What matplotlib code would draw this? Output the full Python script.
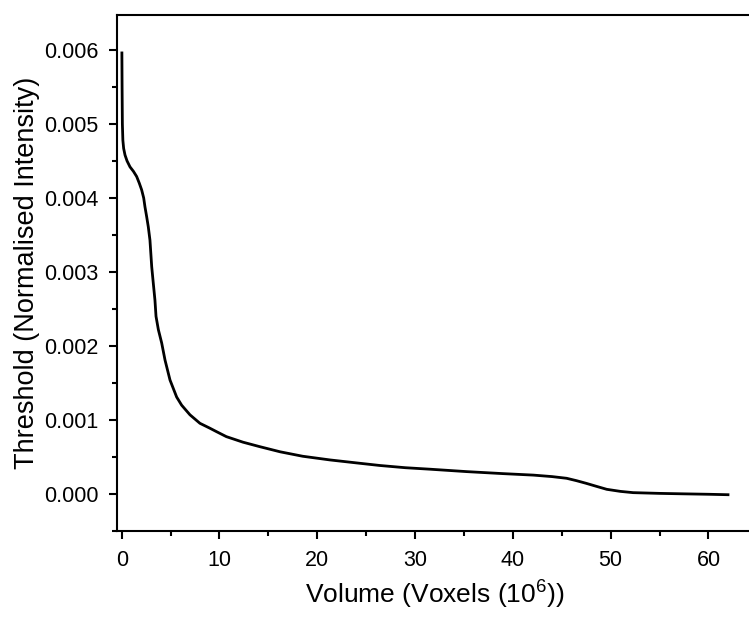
import matplotlib
matplotlib.use("Agg")
import matplotlib.pyplot as plt
from matplotlib.ticker import MultipleLocator, FormatStrFormatter

plt.rcParams['font.family'] = ['Liberation Sans', 'DejaVu Sans']
plt.rcParams['mathtext.fontset'] = 'custom'
plt.rcParams['mathtext.rm'] = 'Liberation Sans'
plt.rcParams['mathtext.default'] = 'regular'

# volume (10^6 voxels) vs threshold
volume = [0.02, 0.04, 0.07, 0.12, 0.2, 0.34, 0.55, 0.85, 1.2, 1.53, 1.8, 2.04,
          2.25, 2.38, 2.55, 2.72, 2.89, 3.07, 3.23, 3.4, 3.51, 3.75, 4.09, 4.43,
          4.94, 5.62, 6.13, 6.98, 8.0, 9.0, 9.7, 10.7, 12.4, 14.1, 16.2, 18.5,
          21.3, 24.0, 26.4, 29.0, 31.5, 35.3, 39.0, 42.1, 44.0, 45.5, 46.5, 47.5,
          48.5, 49.6, 51.0, 52.3, 55.0, 57.4, 60.0, 62.0]
threshold = [0.00596, 0.0055, 0.0050, 0.00478, 0.00467, 0.00458, 0.0045, 0.00442,
             0.00436, 0.00429, 0.0042, 0.00411, 0.0040, 0.00388, 0.00375, 0.00361,
             0.00343, 0.00307, 0.00285, 0.00262, 0.0024, 0.00222, 0.00204, 0.00181,
             0.00154, 0.00131, 0.0012, 0.00107, 0.000955, 0.00089, 0.000842, 0.000775,
             0.0007, 0.00064, 0.00057, 0.00051, 0.00046, 0.00042, 0.000385, 0.000355,
             0.000335, 0.000302, 0.000275, 0.000255, 0.000235, 0.000212, 0.00018, 0.000144,
             0.000105, 0.000063, 0.000035, 0.000018, 0.000008, 0.000002, -0.000004, -0.00001]

fig = plt.figure(figsize=(7.49, 6.19), dpi=100)
ax = fig.add_axes([0.1566, 0.1422, 0.848, 0.8336])

ax.plot(volume, threshold, color='black', lw=2.0, solid_joinstyle='round')

ax.set_xlim(-0.45, 64.5)
ax.set_ylim(-0.0005, 0.006473)
ax.xaxis.set_major_locator(MultipleLocator(10))
ax.xaxis.set_minor_locator(MultipleLocator(5))
ax.yaxis.set_major_locator(MultipleLocator(0.001))
ax.yaxis.set_minor_locator(MultipleLocator(0.0005))
ax.yaxis.set_major_formatter(FormatStrFormatter('%.3f'))

ax.spines['right'].set_visible(False)
for s in ['left', 'top', 'bottom']:
    ax.spines[s].set_linewidth(1.5)

ax.tick_params(which='major', direction='out', length=6, width=1.5, labelsize=15.5, pad=7.5)
ax.tick_params(which='minor', direction='out', length=3.5, width=1.5)

ax.set_xlabel('Volume (Voxels (10$^{6}$))', fontsize=19, labelpad=6)
ax.set_ylabel('Threshold (Normalised Intensity)', fontsize=19.5, labelpad=3)

fig.savefig('out.png', dpi=100)
